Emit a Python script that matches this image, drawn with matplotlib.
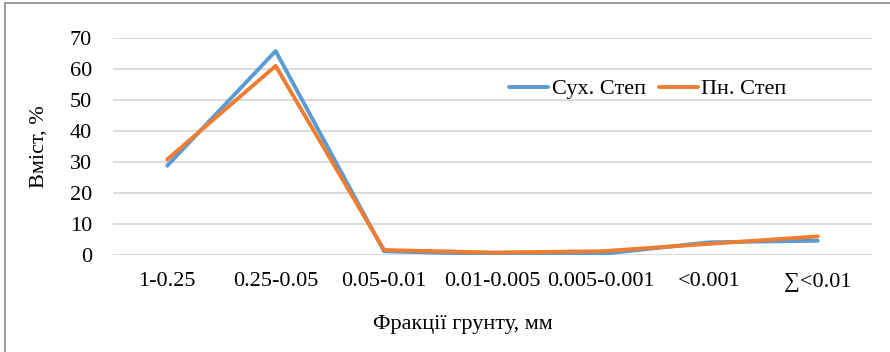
import matplotlib
matplotlib.use("Agg")
import matplotlib.pyplot as plt
from matplotlib.patches import Rectangle

categories = ["1-0.25", "0.25-0.05", "0.05-0.01", "0.01-0.005", "0.005-0.001", "<0.001", "∑<0.01"]
dry_steppe = [28.8, 65.8, 1.2, 0.3, 0.3, 4.1, 4.6]
north_steppe = [30.8, 61.0, 1.6, 0.8, 1.2, 3.6, 6.0]
series_names = ["Сух. Степ", "Пн. Степ"]
yticks = [0, 10, 20, 30, 40, 50, 60, 70]

plt.rcParams['font.family'] = ['Liberation Serif', 'DejaVu Serif']

fig = plt.figure(figsize=(8.9, 3.52), dpi=100)
W, H = 890, 352
ax = fig.add_axes([113 / W, 1 - 255 / H, (872 - 113) / W, (255 - 38) / H])

x = list(range(len(categories)))
ax.plot(x, dry_steppe, color="#5B9BD5", lw=2.8, label=series_names[0], solid_capstyle="round")
ax.plot(x, north_steppe, color="#ED7D31", lw=2.8, label=series_names[1], solid_capstyle="round")

ax.set_xlim(-0.5, len(categories) - 0.5)
ax.set_ylim(0, 70)
ax.set_yticks(yticks)
ax.set_xticks(x)
ax.set_xticklabels(categories)
ax.grid(axis="y", color="#d9d9d9", lw=1.3)
ax.set_axisbelow(True)
for s in ax.spines.values():
    s.set_visible(False)
ax.tick_params(length=0, labelsize=16, colors="black")
ax.tick_params(axis="x", pad=12)
ax.tick_params(axis="y", pad=15)

ax.set_ylabel("Вміст, %", fontsize=16)
ax.set_xlabel("Фракції грунту, мм", fontsize=16)
ax.yaxis.set_label_coords((39 - 113) / (872 - 113), (255 - 147) / (255 - 38))
ax.xaxis.set_label_coords((463 - 113) / (872 - 113), -(325 - 255) / (255 - 38))
ax.xaxis.label.set_va("center")
ax.yaxis.label.set_va("center")

ax.legend(loc="center", bbox_to_anchor=((648 - 113) / (872 - 113), (255 - 89) / (255 - 38)),
          ncol=2, frameon=False, fontsize=16, handlelength=1.75, handletextpad=0.15,
          columnspacing=0.6)

fig.patches.append(Rectangle((5 / W, -0.1), 1.2, (1 - 3 / H) + 0.1, transform=fig.transFigure,
                             fill=False, edgecolor="#8c8c8c", lw=1.2))

fig.savefig("out.png", dpi=100)
